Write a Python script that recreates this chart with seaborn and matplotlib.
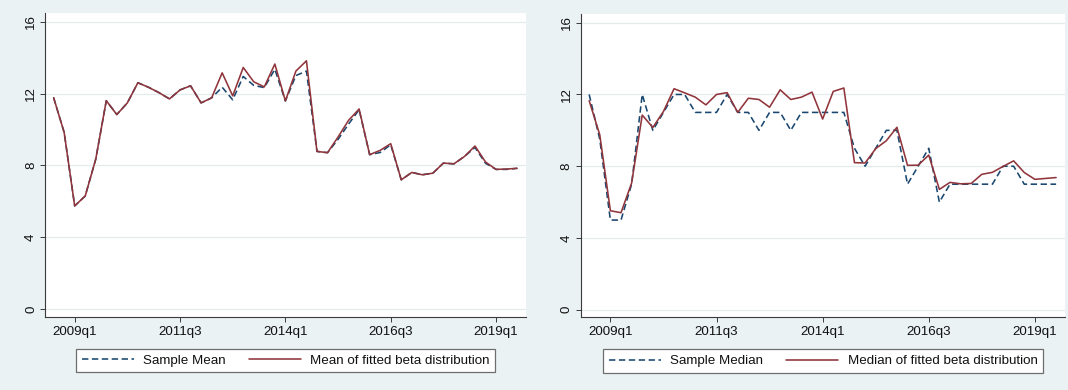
import numpy as np
import pandas as pd
import matplotlib
matplotlib.use("Agg")
import matplotlib.pyplot as plt
from matplotlib.lines import Line2D
import seaborn as sns

# Quarterly observations, 2008q3 .. 2019q3
quarters = [str(p).replace("Q", "q") for p in pd.period_range("2008Q3", "2019Q3", freq="Q")]

sample_mean = [11.77, 9.84, 5.75, 6.30, 8.35, 11.60, 10.83, 11.48, 12.60, 12.35,
               12.05, 11.70, 12.20, 12.43, 11.48, 11.76, 12.35, 11.65, 12.95, 12.45,
               12.33, 13.35, 11.59, 13.00, 13.25, 8.78, 8.71, 9.45, 10.30, 11.10,
               8.60, 8.72, 9.15, 7.20, 7.61, 7.48, 7.57, 8.13, 8.09, 8.50,
               9.00, 8.12, 7.78, 7.78, 7.84]
fitted_mean = [11.77, 9.84, 5.75, 6.30, 8.35, 11.60, 10.83, 11.48, 12.60, 12.35,
               12.05, 11.70, 12.20, 12.43, 11.48, 11.76, 13.15, 11.87, 13.45, 12.65,
               12.37, 13.64, 11.59, 13.25, 13.82, 8.78, 8.71, 9.58, 10.51, 11.14,
               8.60, 8.84, 9.21, 7.20, 7.61, 7.48, 7.57, 8.13, 8.09, 8.50,
               9.08, 8.19, 7.78, 7.80, 7.84]
sample_median = [12, 9.5, 5, 5, 7, 12, 10, 11, 12, 12,
                 11, 11, 11, 12, 11, 11, 10, 11, 11, 10,
                 11, 11, 11, 11, 11, 9, 8, 9, 10, 10,
                 7, 8, 9, 6, 7, 7, 7, 7, 7, 8,
                 8, 7, 7, 7, 7]
fitted_median = [11.65, 9.75, 5.52, 5.41, 7.06, 10.85, 10.16, 11.05, 12.32, 12.09,
                 11.85, 11.42, 12.00, 12.10, 11.00, 11.79, 11.72, 11.29, 12.26, 11.72,
                 11.85, 12.13, 10.63, 12.17, 12.36, 8.20, 8.18, 8.98, 9.42, 10.17,
                 8.05, 8.06, 8.62, 6.71, 7.10, 7.02, 7.04, 7.55, 7.66, 7.99,
                 8.30, 7.65, 7.27, 7.32, 7.37]

x_tick_labels = ["2009q1", "2011q3", "2014q1", "2016q3", "2019q1"]
y_ticks = [0, 4, 8, 12, 16]

left_labels = ["Sample Mean", "Mean of fitted beta distribution"]
right_labels = ["Sample Median", "Median of fitted beta distribution"]

BG = "#EAF2F3"
NAVY = "#1A476F"
MAROON = "#90353B"
GRID = "#E4EBED"
AXIS = "#3A3A3A"

sns.set_theme(style="white")
plt.rcParams["font.family"] = ["Liberation Sans", "DejaVu Sans"]
plt.rcParams["lines.scale_dashes"] = True

fig = plt.figure(figsize=(10.68, 3.90), dpi=100, facecolor=BG)
ax_l = fig.add_axes([0.0426, 0.1872, 0.4499, 0.7795])
ax_r = fig.add_axes([0.5440, 0.1859, 0.4532, 0.7780])

xpos = np.arange(len(quarters))


def draw_panel(ax, sample, fitted, labels):
    df = pd.DataFrame({
        "x": np.concatenate([xpos, xpos]),
        "value": list(sample) + list(fitted),
        "series": [labels[0]] * len(sample) + [labels[1]] * len(fitted),
    })
    sns.lineplot(
        data=df, x="x", y="value", hue="series", style="series",
        hue_order=labels, style_order=labels,
        palette={labels[0]: NAVY, labels[1]: MAROON},
        dashes={labels[0]: (4.0, 2.2), labels[1]: ""},
        linewidth=1.15, legend=False, ax=ax,
    )
    ax.set_facecolor("white")
    ax.set_xlim(-0.77, 44.84)
    ax.set_ylim(-0.43, 16.48)
    ax.set_xticks([quarters.index(t) for t in x_tick_labels])
    ax.set_xticklabels(x_tick_labels)
    ax.set_yticks(y_ticks)
    ax.set_yticklabels([str(t) for t in y_ticks], rotation=90, va="center")
    ax.set_xlabel("")
    ax.set_ylabel("")
    for yv in y_ticks:
        ax.axhline(yv, color=GRID, lw=0.9, zorder=0)
    for side in ("top", "right"):
        ax.spines[side].set_visible(False)
    for side in ("left", "bottom"):
        ax.spines[side].set_color(AXIS)
        ax.spines[side].set_linewidth(0.8)
    ax.tick_params(axis="both", which="major", direction="out", length=3.6,
                   width=0.7, color=AXIS, labelsize=9.6, labelcolor="#111111")
    ax.tick_params(axis="x", pad=2.6, bottom=True)
    ax.tick_params(axis="y", pad=2.4, left=True)

    handles = [
        Line2D([], [], color=NAVY, lw=1.15, dashes=(4.0, 2.2)),
        Line2D([], [], color=MAROON, lw=1.15),
    ]
    leg = ax.legend(handles, labels, loc="upper center", bbox_to_anchor=(0.5, -0.105),
                    ncol=2, frameon=True, fancybox=False, edgecolor="#6E6E6E",
                    facecolor="white", framealpha=1, fontsize=9.6,
                    handlelength=3.9, handletextpad=0.7, columnspacing=1.75,
                    borderpad=0.42, borderaxespad=0)
    leg.get_frame().set_linewidth(0.9)
    for t in leg.get_texts():
        t.set_color("#111111")


draw_panel(ax_l, sample_mean, fitted_mean, left_labels)
draw_panel(ax_r, sample_median, fitted_median, right_labels)

fig.savefig("out.png", dpi=100, facecolor=BG)
